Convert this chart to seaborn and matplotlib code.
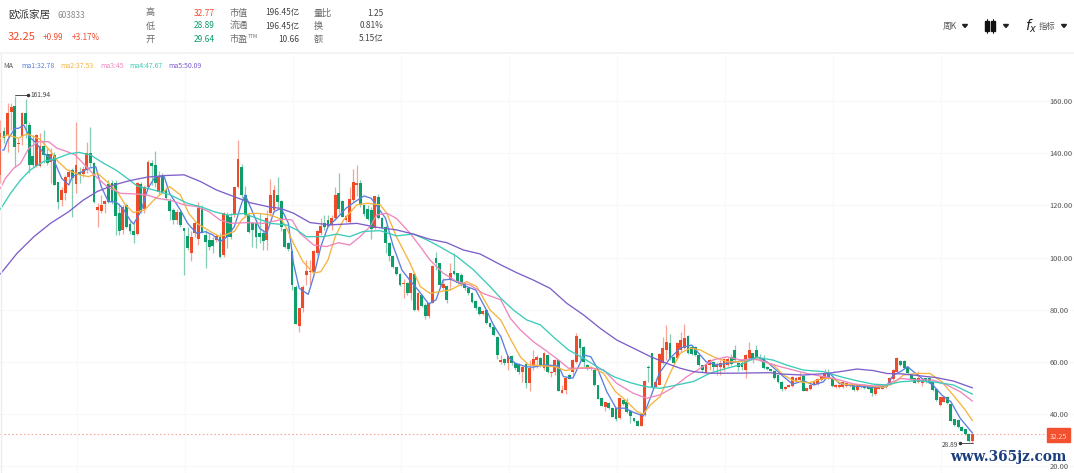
import pandas as pd
import matplotlib.pyplot as plt
from matplotlib.patches import Rectangle, Polygon
import seaborn as sns

# weekly candles
opens = [131.7,148.3,147,155.9,158.1,143.5,146.6,155.5,150.8,138.9,
         135.1,135.1,142.8,139.7,136.7,139.3,129,122.1,124.6,130.8,
         133.6,128.2,132.9,131.9,133.6,140.2,136.1,118.2,118,120.6,
         128.2,128.5,128.5,117.2,110.6,120.2,113,110.3,109,128.2,
         118.5,127.2,136.1,135.5,125,131.3,125.9,121.8,118.2,114.2,
         117.6,111.2,108.2,101.9,109.6,107,118.9,108.7,106.7,106.7,
         106.7,108,101,116.3,115.7,116.7,127.2,134.6,124,116.3,
         113.1,113.1,109.3,109.3,106.7,117,118.2,124,121.8,110.8,
         105.5,102.7,88.9,73.6,80.6,93.3,94.6,94.6,101.6,109.3,
         113.1,114.2,112.5,115,124.9,121.8,114.2,113.8,122.1,127.8,
         128.5,120.2,118.5,118.2,111.2,123.1,115,111.9,105.7,100.6,
         96.3,93.7,89.9,90.4,86.3,93.7,79.9,85.7,81.9,77.6,
         82.7,99.7,97.8,88.2,89.1,91.4,95,94,93.3,89.9,
         88.2,86.6,83.5,81,78.4,79.9,75,73.5,69.7,60.1,
         61.2,59.5,62.3,59.8,59.1,56.3,59.3,52.1,58.5,60.8,
         61.5,57.6,62.7,55.7,56.3,60.8,48.3,49.3,55,56.3,
         60.1,68.7,65.9,58.9,57.2,57,51.1,46.1,42.9,44.4,
         42.5,42.3,38.4,45.5,44.8,41.4,38.4,37.5,35.5,39.7,
         58.2,63.3,50.6,51.2,59.5,64.6,67.2,62,61.4,64.4,
         65.3,70.1,65.6,65.6,62.7,58.9,55.9,58.9,60.1,58.2,
         58.2,57.6,58.9,62,64.6,59.8,59.5,57,61.4,63.3,
         64.4,61.4,61.4,58,57.2,56.5,55,52.4,49.5,50.5,
         50.8,52.7,53.1,54.7,49,49.5,51.2,51.6,53.1,53.7,
         55.9,53.7,50.3,50.5,50.5,50.8,50.8,51.2,49.3,51.2,
         51.2,50.8,50.3,47.7,49.8,49.8,50.3,51.6,53.5,56.3,
         60.5,60.5,58.2,55.4,53.7,52.4,52.1,53.7,53.7,52.4,
         49.5,43.5,44.8,46.7,43.9,38,37.8,35,34.2,32.4,29.64]
closes = [147.6,145.7,155.5,157.8,142.5,144,155.3,151.2,135.5,135.5,
          147,142.8,139.3,136.4,139.7,127.8,121.4,125.9,130.8,132.9,
          130.4,135.5,131.6,133.8,140,136.1,121.4,119.5,120.2,121.8,
          121.1,121.1,115.9,110,119.3,111.9,110,108.6,128.7,117.6,
          126.9,136.7,135.1,128.5,131,125.3,122.7,118,114.4,117.6,
          112.5,110.3,103.6,108,113.1,119.1,109.9,106.1,104.2,104.5,
          108.3,100.4,116.9,108,108,126.9,137.7,124,116.3,109.9,
          110.6,108,107.8,106.5,115,124,125.7,121.4,111.9,104.2,
          103.2,89.5,74.6,80.6,88.9,95,95,102.7,110,112.1,
          111.9,112.1,115,124,118.5,115.7,115.9,122.3,129.1,128.5,
          120.2,116.7,114.7,110.8,123.4,115,111.2,105.7,100.6,96.3,
          93.7,89.5,90.4,86.3,94,79.9,86.6,81.5,77.6,82.5,
          96.8,98.1,89.5,89.9,83.8,94,93.7,90.4,89.5,88.2,
          86.3,83.1,80.6,78.4,79.5,74.8,73.3,70.4,62.5,60.8,
          59.5,62.3,59.5,57.6,56.3,58.2,52.1,57.6,61,61.8,
          58.5,63.4,56.3,56.3,60.8,49,49.3,53.8,53.6,60.8,
          70,65.3,60.1,57.2,58,51.2,46,43.2,44.6,42.3,
          39.1,38.1,46.1,43.9,41,39.3,37.2,35.6,40.1,52.9,
          57.8,50.3,52.5,63.1,65.3,67.8,61.4,59.8,67.2,68.5,
          69.1,63.3,63.1,62.7,58.9,57,59.3,60.8,58.2,59.3,
          59.5,61.2,61.2,59.3,60.8,58.2,58.2,62.7,64.4,61.4,
          61.4,61,57.8,57.2,56.7,53.7,52.4,49.5,50.5,51.2,
          54.4,54,54.4,49,49.9,51.2,52.4,53.5,54.6,55.6,
          53.7,50.8,51.2,51.2,52.4,52,51.5,49.3,51.2,50.3,
          49.9,49.8,48,50.3,50.5,50.8,51.2,54,56.9,61.4,
          58.8,57.6,55.6,53.5,52.1,53.7,53.1,52.4,52.1,49.3,
          45.4,46.4,46.4,44.1,37.5,35.8,35,33.7,32.4,29.8,32.25]
highs = [152.7,150.2,159.1,159.1,161.94,145.7,155.9,160.6,152.1,147,
         147.5,147.6,148.9,141.9,141.9,140.6,129,127.2,131.6,134,
         134.2,152.1,134.8,135,144.4,150.2,136.7,120.8,124,122.1,
         129.7,129.7,129.7,120.8,120.2,120.8,114,113.8,129,129,
         127.8,137.4,137.4,141,133,132.3,127,122.7,119,118.5,
         118.2,111.2,111.9,110,114,121.4,120.2,110.6,109.3,108,
         109,109.3,117.6,117.6,117,127.2,145,136,127.4,116.9,
         113.8,114.4,117,110.6,118.2,130,127.8,131,122,111.5,
         106,103,89.5,80.6,89.5,99.1,99.1,103,110.6,115,
         116.3,116.3,116.3,127.2,132.5,122,116.3,127.2,133.8,135.5,
         129.7,120.5,120.2,119.5,123.6,124.4,115.5,112.5,106.1,101,
         96.5,94,91.7,90.8,94,94,87,86,82.5,83.1,
         97,102.3,97.8,92,89.5,97.8,101.9,94.2,94,90.5,
         88.5,87,83.8,81.3,80,80.2,75.5,74,70,62.7,
         61.5,62.7,62.5,60,59.5,58.5,59.5,60.8,64.6,62.7,
         62,64,63,56.7,61,61,51.2,54.4,55.5,61,
         71,69,66.2,59.2,58.3,57.2,51.3,46.3,44.8,44.6,
         42.8,42.5,46.3,46,46.1,41.6,38.6,37.7,40.3,53.1,
         58.9,63.5,54,63.3,69.5,74.2,70.7,62.3,67.8,71.6,
         74.6,70.4,66.5,66,63,59,59.6,61,60.4,60,
         60.8,61.5,62,63,66.5,60,60.2,63,67.8,63.6,
         66.5,63,62.5,58.3,57.5,56.8,55.2,52.8,50.8,51.4,
         54.7,54.3,56.3,55,50.2,51.4,52.7,53.7,54.8,57.5,
         57.2,54,51.5,51.4,52.7,52.3,51.8,51.5,51.5,51.5,
         51.5,51,50.6,50.6,50.8,51,51.5,54.3,57.2,61.9,
         60.9,60.9,58.5,55.7,54,56.5,53.4,54,54.2,52.7,
         49.8,46.7,46.7,47,44.2,38.3,38.1,35.3,34.5,32.7,32.77]
lows = [128.5,143.8,140.6,148.9,134.8,140.6,143.2,145.7,132.3,134.6,
        134.6,134.8,136.1,135.5,128.5,127.8,118.5,119.8,122.1,128,
        115.7,124.6,128.5,131,132.3,134.8,120.8,111.9,116.9,116.9,
        120.8,120.6,108.6,108.6,109,111.2,109,105.7,108.6,116.9,
        117.2,126.5,127.8,127.2,124,124.6,122,114.4,113,113,
        111.9,93.3,102.9,98.5,108,104.8,109.3,95.9,102.9,101.6,
        106,99.7,100.4,103.5,107,115.7,126.5,123,115.7,109.3,
        104.2,103.5,105.5,102.9,102.9,116,117.5,119.5,110,103.5,
        102.5,87.6,74.5,71.6,79.3,89.5,89.5,94.6,101,108.7,
        110.6,111.9,110.6,114.4,117,115.4,113.5,113.1,121.4,123.4,
        119.5,116,114.4,107,110.8,114.7,110.8,101.6,98.5,96,
        93.3,89,84.4,85.7,83.8,79.5,79.5,81,76.4,76.8,
        82.5,95.3,88.9,87.6,82.5,87.6,93.3,89.9,89,87.6,
        85.5,82.7,80,78,78,74.4,73,70,61,59.3,
        59,57,59,57,55.5,52.5,49.9,49,57,57.6,
        58,56.9,55.9,54.1,55,48.7,48,47.8,53.3,55,
        59.5,60.8,58.2,57,56.8,50.8,45.7,43,41.4,42,
        38.8,37.5,38.1,43.5,40.6,36.5,37,35.3,35.3,39.4,
        52.5,50,50.4,51,59.3,60.8,60.8,59.6,61,64,
        64.9,63,62.7,62.4,58.6,56.3,55.6,57,56.5,55,
        55,56.5,58.5,58.9,60.1,56.5,57,53.8,60.8,59.5,
        60.8,60.2,57.5,56.9,56.4,53.3,52,49,49.2,50.3,
        50.5,52.4,52.8,48.9,48.8,49.2,51,51.3,52.9,53.4,
        53.4,50.5,50,50.2,50.2,50.5,50.5,49,49,50,
        49.6,49.5,47,47.4,49.5,49.5,50,51.3,53.2,56,
        58.4,57.3,55.3,53.2,51.8,52.1,50.8,52.1,51.8,49,
        45.1,43.2,44.5,43.8,37.2,35.5,34.7,33.4,32.1,29.5,28.89]

# moving averages, read at the bends of each line
ma1_weeks = [0,1,2,4,5,6.5,8,10,12,14,15,17,19,20,22,24.5,26.5,28,30,32,34,36,37,39,41,43,45.5,47,50,52,54.5,57,59,61,63,65,67,68,70,72,74,
             76,78,80,81.4,83,85.5,87,89,91,93.4,96,98.5,101,103,105,107,109,111.5,114,116,119,121,123,125,128,129.5,132,135,137,
             139,141,143,146,148,151,155,156.4,159,161,162,164,166,168.4,171,173.5,176,178.6,181,183,186,188.8,192,194,196,199,201.7,204.5,207,210.5,
             213,215,217.5,220,223,226,228.6,230.4,233,237,242.5,246,248,250,252,253.6,256,259,261.5,264,266.6,270]
ma1_vals = [141.2,141.2,145,149.5,149.5,150.8,146.3,143.8,140,138,136.8,130.4,127.8,131,132.3,134.2,134.8,127.2,121.4,121.4,118.9,114.4,112.9,117.6,126.5,131,131,124.6,118.2,113.1,109.3,109.9,108.7,106.1,108,111.9,120.8,124,117.6,111.2,109.3,
            117.6,118.9,113.1,97.8,88.2,85.9,92.7,104.2,111.9,115,118.9,121.4,123.6,122.7,118.9,115,104.8,95.3,90.8,87.6,82.2,83.8,91.4,91.7,89.9,88.9,87.6,79.9,74,
            69.7,62,59.5,58.2,58,58.9,58.5,54.4,53.8,59.5,62.7,62,57,48.7,42.3,42.3,40.6,39.3,48,55.7,61.4,65.3,66.5,63.3,60.1,58.9,59.5,60.1,60.8,61.8,
            60,57.5,54.4,51.5,52.8,51.2,52.4,55.6,51.8,50.8,50.3,50.5,55,56.3,58.2,56.3,53.7,51.2,47.3,44.8,38.4,32.78]
ma2_weeks = [0,2,5,7.4,11,14,16,18.5,22,24.5,27,29.6,32.4,34.7,37,40,42.6,45.4,47,50,52.3,54.6,58.3,61,65,67,69,72,75,
             78,79.5,81.4,84,87,89,91,93,95.3,99,102,105.5,107.3,110,113.8,116.6,119.3,125,129.5,132.3,136,
             139,141.6,144.4,146.7,150.8,154,157,160.6,164,167.5,170.8,173.5,176.8,178.6,180.5,183.2,186,188.8,191.6,194.4,198,201.8,205.5,210,
             214.7,217.5,220.3,224.4,228.6,231,234,238.8,245.3,248,250.8,254.5,258.2,261.5,265,268,270]
ma2_vals = [145.7,147,145.7,147.4,145.3,140.6,136.8,133.6,131.7,131,132.3,129.1,125.3,120.2,117.2,118.2,122,125.3,127.2,124,117,113.1,110,108,110,114.4,116.9,116.9,116.3,
            114.7,111.2,105.5,98.5,94,94.6,99.1,108,114.4,120.2,120.8,120.2,117,108,97.8,88.9,86.3,87.6,90.8,88.9,79.9,
            76,69,62,58.9,58.5,58.2,56.7,57.6,58,55.7,48.7,45.5,41,40,43.5,46.7,55.7,63.3,65.3,64.6,62,60.1,60.1,61.2,
            58.8,55,52.8,52,53.7,53.7,51.5,51.2,50.3,51.8,55,55.6,55.6,52.4,46.7,41.6,37.53]
ma3_weeks = [0,1.4,3.7,5.6,7.9,10.6,13.4,15.7,18.5,20.8,23,26,29.6,33.3,37,40.7,43.5,47.2,51,54.6,57.9,61,63.9,68.5,73,
             78.6,81,83.2,87,90.6,93.9,97,99.9,102.7,104.5,107.3,110,113.8,116.6,119.3,123,126.8,130.5,134,
             139,141.6,144.4,148,151.3,155,157.8,161,164.3,167.5,171.2,175.8,179.5,183.2,186.5,190.7,194.4,198,201.8,205.5,210,
             216.6,220.3,224,228.6,231.4,237,242.5,246,250,254.5,259,262.9,266.6,270]
ma3_vals = [126.5,130.4,134.2,136.1,141.9,144.4,144.4,141.9,140.6,139.3,136.1,131.7,127.2,124.6,124.4,124,122.7,122,120.2,119.5,117.6,114.4,113.1,113.4,113.1,
            114.7,114.4,109.3,104.8,104.2,105.7,104.8,108,111.9,116.3,117,115,109.3,104.2,99.1,94,90.8,89.5,86.3,
            83.8,76.8,72.3,67.8,64.6,60.8,57.6,57.6,57.6,57,51.8,48,46.1,47.4,49.9,54.4,57.6,60.8,62,60.8,61,
            58.2,56.9,55.6,54.4,53.7,51.6,50.8,51.2,53.7,53.1,53.1,51.2,48.6,45]
ma4_weeks = [0,2.8,5.6,8.3,12,15.7,19,21.8,25,28.7,32,35.2,38,42.6,47.2,51.9,55.6,59.3,63,67.6,71.3,75,
             79.5,82.3,85,89.7,93.4,97,100.8,105.5,110,114.7,118.4,122,126.8,131.4,136,
             139,142.5,146.2,150,154,157.8,162,165.7,170.3,174.9,179,183.2,187.9,192.5,197.1,201.8,205.5,210,
             214.7,218.4,223,228.6,233.2,237.9,242.5,246.2,249.9,254.5,259,264.7,270]
ma4_vals = [118.5,124.6,129.7,133.6,136.8,138,139.7,140.3,139.3,136.1,133.6,130.4,127.4,125.9,124,120.8,119.5,117.6,116.3,116.9,115,113.1,
            112.5,110.6,108,108,109,108,110,110.3,108.3,109,106.8,104.2,100.4,95.3,88.9,
            84.4,79.9,76.1,74.2,69.1,64.6,61.4,58.2,54.4,52.1,50.6,49.9,51.2,52.5,55.7,57.6,58.9,61.8,
            60.7,58.8,56.9,56.3,54.4,52.8,51.5,51.2,52.4,52.8,52.4,51.2,47.67]
ma5_weeks = [0,4.6,9.3,13.9,19,23,26.9,31.5,36,40.7,45.4,51,55.6,60,64.8,69.4,75,
             77.7,81.4,86,91.6,99,104.5,110,114.7,119.3,124,128.6,133.2,
             139,143.4,148,152.7,157.3,162,166.6,171.2,175.8,180.5,185,188.8,192.5,197,203.6,213.8,
             216.6,223,229.5,233.2,237.9,242.5,246.2,250.8,255.4,260,264.7,270]
ma5_vals = [93.7,101.6,108,113.1,117.6,122,125.3,127.8,129.5,130.8,131.4,131.7,129.1,125.9,123.4,121,119.3,
            118.9,117,113.4,112.5,113.1,111.6,110.6,109,107,105.7,102.9,101.4,
            97.2,94.2,91.4,88.2,82.5,78,72.9,68.4,65.3,62.1,59.5,57.6,56.3,55.7,55.7,55.9,
            55.4,55,55.6,56.3,57.3,56.7,55.6,55.4,54.7,54,52.7,50.09]

price_ticks = [20, 40, 60, 80, 100, 120, 140, 160]
grid_weeks = [21.3, 51.3, 81.3, 111.3, 141.3, 171.3, 201.3, 231.3, 261.3]
last_price = 32.25

RED = '#EF4B2B'
GREEN = '#0F9D6B'
MA_COLORS = ['#5B7FE0', '#F5B440', '#EF86BE', '#3CCBB8', '#7E5FC9']

sns.set_theme(style='white')
plt.rcParams['font.family'] = ['Noto Sans CJK SC', 'DejaVu Sans']

fig = plt.figure(figsize=(10.74, 4.73), dpi=100, facecolor='white')
ax = fig.add_axes([0, 0, 1, 418 / 473])

df = pd.DataFrame({'week': range(len(opens)), 'open': opens, 'close': closes, 'high': highs, 'low': lows})
df['up'] = df['close'] >= df['open']
df['color'] = df['up'].map({True: RED, False: GREEN})
df['bottom'] = df[['open', 'close']].min(axis=1)
df['height'] = (df['close'] - df['open']).abs().clip(lower=0.4)

# wicks first, bodies on top
ax.vlines(df['week'], df['low'], df['high'], colors=df['color'], linewidth=0.9, alpha=0.5, zorder=2)
ax.bar(df['week'], df['height'], bottom=df['bottom'], width=0.8, color=df['color'], linewidth=0, zorder=3)

# moving average lines
ma_series = [(ma1_weeks, ma1_vals), (ma2_weeks, ma2_vals), (ma3_weeks, ma3_vals), (ma4_weeks, ma4_vals), (ma5_weeks, ma5_vals)]
for (w, v), c in zip(ma_series, MA_COLORS):
    sns.lineplot(x=w, y=v, color=c, linewidth=0.95, estimator=None, errorbar=None, ax=ax, zorder=4)

ax.set_xlim(-0.11, 298.2)
ax.set_ylim(17.47, 177.6)
ax.set_xticks(grid_weeks)
ax.set_xticklabels([])
ax.set_yticks(price_ticks)
ax.set_yticklabels(['%.2f' % p for p in price_ticks])
ax.yaxis.tick_right()
ax.tick_params(axis='y', length=0, pad=-17.5, labelsize=5.4, labelcolor='#555555')
ax.tick_params(axis='x', length=0)
ax.grid(True, color='#F8F8F8', linewidth=0.8)
ax.set_axisbelow(True)
for s in ax.spines.values():
    s.set_visible(False)

# last price line
ax.plot([0, 291], [last_price, last_price], color='#F3A9A0', linewidth=0.8, linestyle=(0, (1.5, 2)), zorder=1)

# header and labels, placed in pixels
top = fig.add_axes([0, 0, 1, 1], facecolor='none')
top.set_xlim(0, 1074)
top.set_ylim(473, 0)
top.axis('off')
TXT = '#6B6B6B'


def label(x, y, s, size=6.6, color=TXT, ha='left', **kw):
    top.text(x, y, s, fontsize=size, color=color, ha=ha, va='center', **kw)


label(8, 16, '欧派家居', size=7.6, color='#333333')
label(57, 16, '603833', size=6, color='#8A8A8A')
label(8, 37, '32.25', size=8, color=RED)
label(43, 38, '+0.99', size=5.8, color=RED)
label(72, 38, '+3.17%', size=5.8, color=RED)
for y, name, val, col in [(13, '高', '32.77', RED), (26, '低', '28.89', GREEN), (39, '开', '29.64', GREEN)]:
    label(146, y, name)
    label(215, y, val, size=6, color=col, ha='right')
for y, name, val in [(13, '市值', '196.45亿'), (26, '流通', '196.45亿'), (39, '市盈', '10.66')]:
    label(230, y, name)
    label(299, y, val, size=6, color='#444444', ha='right')
label(248, 36, 'TTM', size=3.6)
for y, name, val in [(13, '量比', '1.25'), (26, '换', '0.81%'), (39, '额', '5.15亿')]:
    label(314, y, name)
    label(383, y, val, size=6, color='#444444', ha='right')

top.plot([0, 1074], [53, 53], color='#F3F3F3', linewidth=1.4)
top.plot([0.5, 0.5], [54, 473], color='#EDEDED', linewidth=1)

label(3, 66, 'MA', size=5, color='#555555')
for x, s, c in zip([21, 60, 100, 129, 168], ['ma1:32.78', 'ma2:37.53', 'ma3:45', 'ma4:47.67', 'ma5:50.09'], MA_COLORS):
    label(x, 66, s, size=5, color=c)

# toolbar on the right
label(943, 26, '周K', size=6.2, color='#555555')
label(1039, 26, '指标', size=6, color='#555555')
label(1025, 26, '$f_x$', size=10, color='#222222')
for x in [965, 1006, 1064]:
    top.add_patch(Polygon([[x - 2.5, 24.5], [x + 2.5, 24.5], [x, 27.5]], color='#222222'))
for x in [985, 991]:
    top.add_patch(Rectangle((x, 21), 3.5, 10, color='#111111'))
    top.plot([x + 1.75, x + 1.75], [19, 33], color='#111111', linewidth=0.7)

# high and low markers
top.plot([15, 28], [95, 95], color='#333333', linewidth=0.6)
top.plot([28], [95], 'o', color='#333333', markersize=1.5)
label(30, 95, '161.94', size=4.8, color='#444444')
top.plot([960, 973], [443, 443], color='#333333', linewidth=0.6)
top.plot([960], [443], 'o', color='#333333', markersize=1.5)
label(958, 445, '28.89', size=4.8, color='#444444', ha='right')

# price tag
top.add_patch(Rectangle((1047, 428), 23, 14, color='#F2502F', zorder=5))
top.text(1058.5, 437, '32.25', fontsize=5, color='#FFD9D0', ha='center', va='center', zorder=6)

# site mark in the corner
top.text(1066, 457, 'www.365jz.com', fontsize=9.8, color='#1B3F7E', ha='right', va='center',
         family='DejaVu Serif', weight='bold', zorder=7)

fig.savefig('out.png', dpi=100)
